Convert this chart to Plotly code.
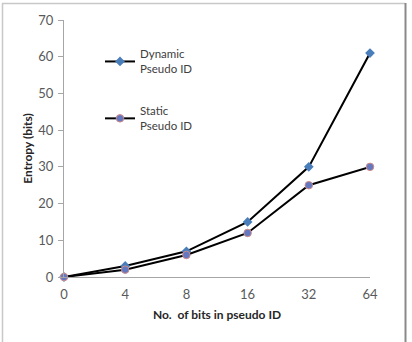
import plotly.graph_objects as go

categories = ["0", "4", "8", "16", "32", "64"]
dynamic_vals = [0, 3, 7, 15, 30, 61]
static_vals = [0, 2, 6, 12, 25, 30]
y_ticks = [0, 10, 20, 30, 40, 50, 60, 70]

W, H = 412, 342
L, R, T, B = 64, 42, 20, 65
pw, ph = W - L - R, H - T - B

def px(x):
    return (x - L) / pw

def py(y):
    return (H - B - y) / ph

xi = list(range(len(categories)))

fig = go.Figure()
fig.add_trace(go.Scatter(
    x=xi, y=dynamic_vals, mode="lines+markers", name="Dynamic<br>Pseudo ID",
    line=dict(color="black", width=2),
    marker=dict(symbol="diamond", size=7.5, color="#4a7ebb", line=dict(width=0)),
    legendgroup="a", cliponaxis=False,
))
fig.add_trace(go.Scatter(
    x=xi, y=static_vals, mode="lines+markers", name="Static<br>Pseudo ID",
    line=dict(color="black", width=2),
    marker=dict(symbol="circle", size=7.5, color="#6278c0", line=dict(width=1, color="#d08a8a")),
    legendgroup="b", cliponaxis=False,
))

font = "Lato, 'Open Sans', sans-serif"
fig.update_layout(
    width=W, height=H,
    margin=dict(l=L, r=R, t=T, b=B),
    paper_bgcolor="white", plot_bgcolor="white",
    font=dict(family=font, size=11, color="#595959"),
    showlegend=True,
    legend=dict(x=px(100), y=py(40), xanchor="left", yanchor="top",
                bgcolor="rgba(0,0,0,0)", font=dict(size=11.5, color="#404040"),
                tracegroupgap=24, itemwidth=30),
    xaxis=dict(
        range=[0, 5], tickmode="array", tickvals=xi, ticktext=categories,
        showgrid=False, zeroline=False, showline=True, linecolor="#a6a6a6",
        linewidth=1, ticks="", tickfont=dict(size=13, color="#595959"),
        ticklabelstandoff=5,
        title=dict(text="<b>No.  of bits in pseudo ID</b>", standoff=10,
                   font=dict(size=12, color="#262626")),
    ),
    yaxis=dict(
        range=[0, 70], tickmode="array", tickvals=y_ticks,
        showgrid=False, zeroline=False, showline=True, linecolor="#a6a6a6",
        linewidth=1, ticks="outside", ticklen=5, tickcolor="#a6a6a6",
        tickfont=dict(size=13, color="#595959"),
        ticklabelstandoff=2,
        title=dict(text="<b>Entropy (bits)</b>", standoff=3,
                   font=dict(size=12, color="#262626")),
    ),
    shapes=[
        dict(type="line", xref="paper", yref="paper", x0=px(2.5), x1=px(2.5), y0=py(3), y1=py(342), line=dict(color="#c8c8c8", width=1.5)),
        dict(type="line", xref="paper", yref="paper", x0=px(2), x1=px(405), y0=py(3.5), y1=py(3.5), line=dict(color="#c8c8c8", width=1.5)),
        dict(type="line", xref="paper", yref="paper", x0=px(405.5), x1=px(405.5), y0=py(3), y1=py(342), line=dict(color="#8a8a8a", width=2)),
    ],
)

fig.write_html("out.html")
